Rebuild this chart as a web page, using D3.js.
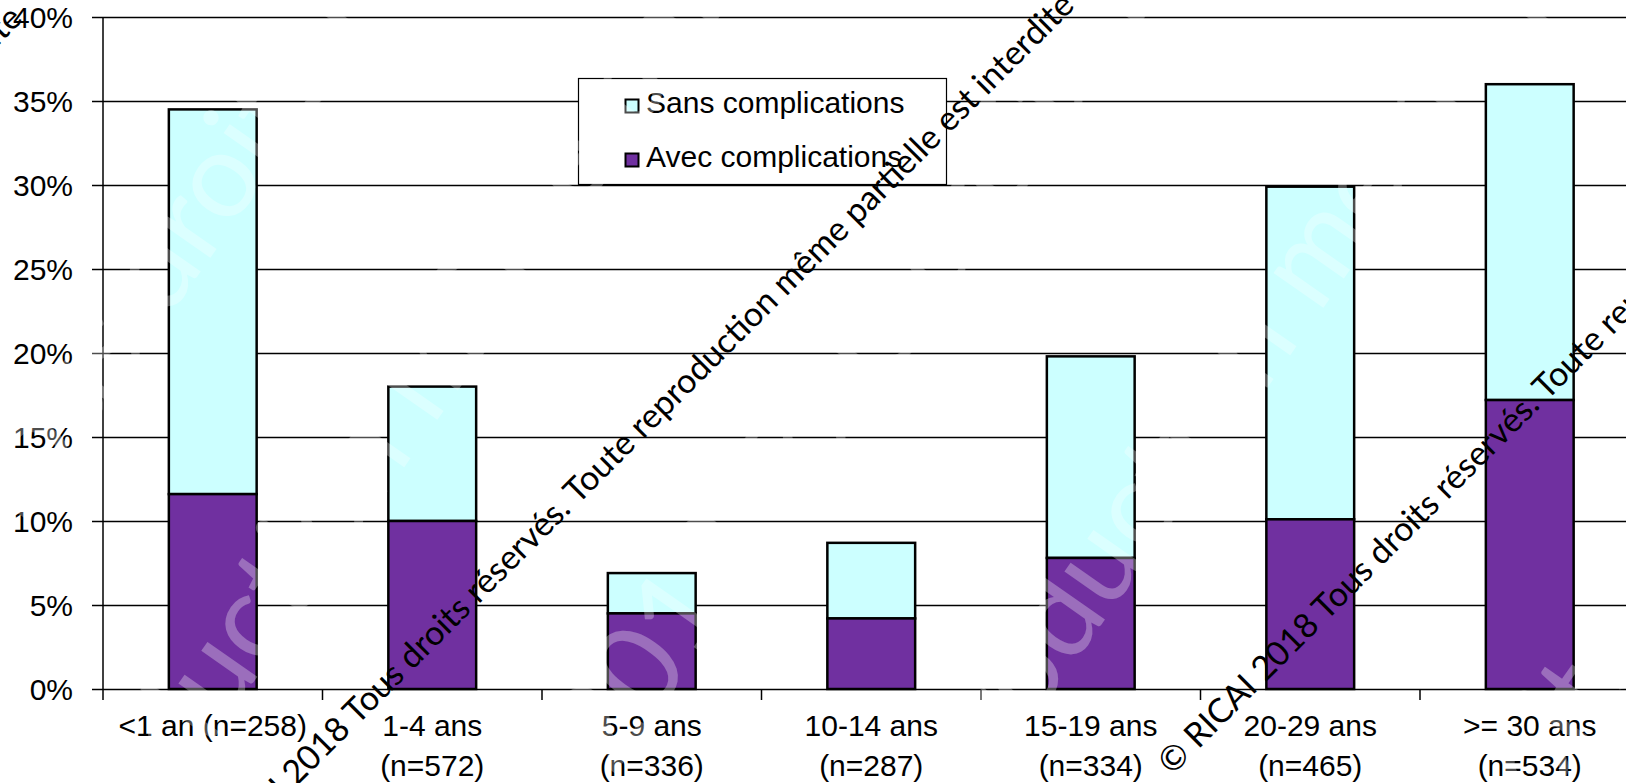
<!DOCTYPE html>
<html>
<head>
<meta charset="utf-8">
<script src="https://cdnjs.cloudflare.com/ajax/libs/d3/7.8.5/d3.min.js"></script>
<style>
  body { margin: 0; background: #fff; }
  svg { display: block; }
  .axis-label { font-family: "Liberation Sans", Arial, sans-serif; font-size: 30px; fill: #000; }
</style>
</head>
<body>
<div id="chart"></div>
<script>
// chart data (percent of patients per age group)
var categories = ['<1 an (n=258)', '1-4 ans\n(n=572)', '5-9 ans\n(n=336)', '10-14 ans\n(n=287)',
                  '15-19 ans\n(n=334)', '20-29 ans\n(n=465)', '>= 30 ans\n(n=534)'];
var avecComplications = [11.6, 10.0, 4.5, 4.2, 7.8, 10.1, 17.2];
var sansComplications = [22.9, 8.0, 2.4, 4.5, 12.0, 19.8, 18.8];
var yTicks = [0, 5, 10, 15, 20, 25, 30, 35, 40];
var seriesNames = ['Sans complications', 'Avec complications'];
var seriesColors = ['#ccffff', '#7030a0'];

var watermark = '\u00a9 RICAI 2018 Tous droits r\u00e9serv\u00e9s. Toute reproduction m\u00eame partielle est interdite';

var W = 1626, H = 783;
var margin = {top: 17, left: 103, bottom: 94};
var plotBottom = H - margin.bottom;

var svg = d3.select('#chart').append('svg')
  .attr('width', W)
  .attr('height', H);

// scales
var x = d3.scaleBand()
  .domain(categories)
  .range([margin.left, margin.left + 7 * 219.5])
  .paddingInner(0.6)
  .paddingOuter(0.3);

var y = d3.scaleLinear()
  .domain([0, 40])
  .range([plotBottom, margin.top]);

// big faint white watermark (drawn later over the bars)
var bigMarks = [
  {x: 10, y: 544, t: 'Tous droits r\u00e9serv\u00e9s. Toute'},
  {x: 24, y: 1010, t: 'reproduction m\u00eame partielle est'},
  {x: 612, y: 778, t: '2018 Tous droits r\u00e9serv\u00e9s'},
  {x: 910, y: 898, t: 'reproduction m\u00eame partielle'},
  {x: 1480, y: 900, t: 'droits r\u00e9serv\u00e9s'}
];

// gridlines
svg.append('g')
  .selectAll('line')
  .data(yTicks)
  .enter().append('line')
    .attr('x1', margin.left - 11)
    .attr('x2', W)
    .attr('y1', function(d) { return Math.round(y(d)) + 0.5; })
    .attr('y2', function(d) { return Math.round(y(d)) + 0.5; })
    .attr('stroke', '#000')
    .attr('stroke-width', 1.3);

// y axis line
svg.append('line')
  .attr('x1', margin.left).attr('x2', margin.left)
  .attr('y1', y(40)).attr('y2', plotBottom + 11)
  .attr('stroke', '#000').attr('stroke-width', 1.5);

// x ticks between categories
var bounds = categories.map(function(c) { return x(c) - x.step() * 0.3 + x.step(); });
svg.append('g')
  .selectAll('line')
  .data(bounds)
  .enter().append('line')
    .attr('x1', function(d) { return d; })
    .attr('x2', function(d) { return d; })
    .attr('y1', plotBottom)
    .attr('y2', plotBottom + 11)
    .attr('stroke', '#000')
    .attr('stroke-width', 1.5);

// y labels
svg.append('g')
  .selectAll('text')
  .data(yTicks)
  .enter().append('text')
    .attr('class', 'axis-label')
    .attr('x', 73)
    .attr('y', function(d) { return y(d) + 11; })
    .attr('text-anchor', 'end')
    .text(function(d) { return d + '%'; });

// stacked bars
var stackData = categories.map(function(c, i) {
  return {cat: c, avec: avecComplications[i], sans: sansComplications[i]};
});
var stack = d3.stack().keys(['sans', 'avec'])
  .order(function() { return [1, 0]; })(stackData);

svg.append('g')
  .selectAll('g')
  .data(stack)
  .enter().append('g')
    .attr('fill', function(d, i) { return seriesColors[i]; })
  .selectAll('rect')
  .data(function(d) { return d; })
  .enter().append('rect')
    .attr('x', function(d) { return x(d.data.cat); })
    .attr('width', x.bandwidth())
    .attr('y', function(d) { return y(d[1]); })
    .attr('height', function(d) { return y(d[0]) - y(d[1]); })
    .attr('stroke', '#000')
    .attr('stroke-width', 2.5);

// category labels
var catLabels = svg.append('g')
  .selectAll('text')
  .data(categories)
  .enter().append('text')
    .attr('class', 'axis-label')
    .attr('text-anchor', 'middle')
    .attr('x', function(d) { return x(d) + x.bandwidth() / 2; })
    .attr('y', 736);
catLabels.selectAll('tspan')
  .data(function(d) { return d.split('\n'); })
  .enter().append('tspan')
    .attr('x', function() { return d3.select(this.parentNode).attr('x'); })
    .attr('dy', function(d, i) { return i ? 40 : 0; })
    .text(function(d) { return d; });

// legend
var legend = svg.append('g');
legend.append('rect')
  .attr('x', 578.5).attr('y', 78.5)
  .attr('width', 368).attr('height', 106)
  .attr('fill', '#fff').attr('stroke', '#000').attr('stroke-width', 1.2);
var items = legend.selectAll('g.item')
  .data(seriesNames)
  .enter().append('g')
    .attr('class', 'item')
    .attr('transform', function(d, i) { return 'translate(625,' + (113 + i * 54) + ')'; });
items.append('rect')
  .attr('x', 0.5).attr('y', -13.5)
  .attr('width', 13).attr('height', 13)
  .attr('fill', function(d, i) { return seriesColors[i]; })
  .attr('stroke', '#000').attr('stroke-width', 2);
items.append('text')
  .attr('class', 'axis-label')
  .attr('x', 21)
  .attr('y', 0)
  .text(function(d) { return d; });

// faint white watermark over everything
svg.append('g')
  .selectAll('text')
  .data(bigMarks)
  .enter().append('text')
    .attr('transform', function(d) { return 'translate(' + d.x + ',' + d.y + ') rotate(-55)'; })
    .attr('font-family', 'Lato, sans-serif')
    .attr('font-size', 120)
    .attr('fill', '#fff')
    .attr('fill-opacity', 0.3)
    .text(function(d) { return d.t; });

// black diagonal copyright lines
var marks = [
  {x: 203, y: 880, anchor: 'start'},
  {x: 1172, y: 776, anchor: 'start'},
  {x: 24, y: 20, anchor: 'end'}
];
svg.append('g')
  .selectAll('text')
  .data(marks)
  .enter().append('text')
    .attr('transform', function(d) { return 'translate(' + d.x + ',' + d.y + ') rotate(-45)'; })
    .attr('text-anchor', function(d) { return d.anchor; })
    .attr('font-family', 'Lato, sans-serif')
    .attr('font-size', 34)
    .attr('fill', '#000')
    .text(watermark);
</script>
</body>
</html>
